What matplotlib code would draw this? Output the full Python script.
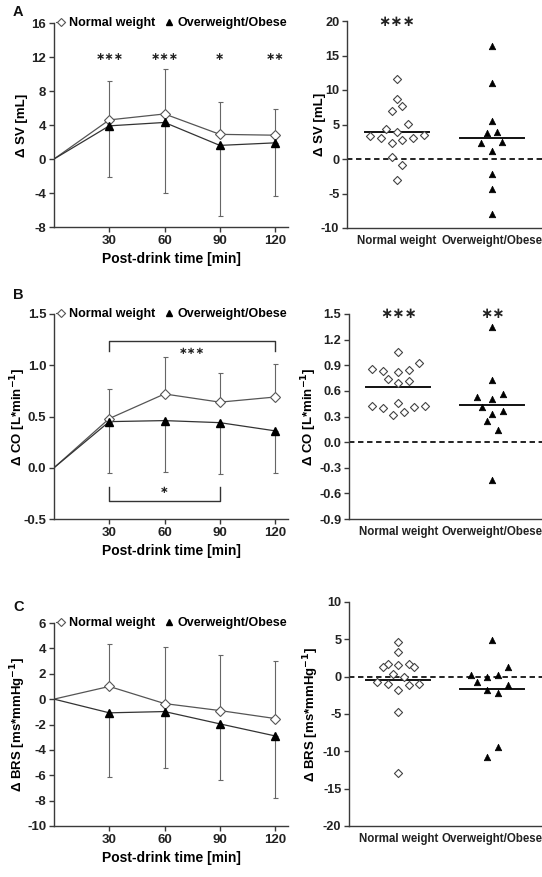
import matplotlib
matplotlib.use('Agg')
import matplotlib.pyplot as plt
from matplotlib.lines import Line2D
import numpy as np

plt.rcParams['font.family'] = ['Liberation Sans', 'DejaVu Sans']
plt.rcParams['font.weight'] = 'bold'
plt.rcParams['axes.labelweight'] = 'bold'

# ---------------- data ----------------
time = [0, 30, 60, 90, 120]
time_ticks = [30, 60, 90, 120]
groups = ['Normal weight', 'Overweight/Obese']

# Panel A: stroke volume
sv_nw = [0, 4.6, 5.3, 2.9, 2.8]
sv_nw_upper = [0, 9.2, 10.6, 6.7, 5.9]
sv_ow = [0, 3.9, 4.3, 1.6, 1.9]
sv_ow_lower = [0, -2.1, -4.0, -6.7, -4.35]
sv_time_sig = ['***', '***', '*', '**']

sv_nw_ind = [11.6, 8.7, 7.7, 7.0, 5.1, 4.35, 3.9, 3.4, 3.0, 2.3, 2.8, 3.0, 3.5, 0.3, -0.9, -3.0]
sv_ow_ind = [16.4, 11.0, 5.5, 3.8, 3.9, 2.3, 2.5, 1.1, -2.2, -4.4, -8.0]
sv_nw_mean = 3.9
sv_ow_mean = 3.0
sv_group_sig = ['***', '']

# Panel B: cardiac output
co_nw = [0, 0.48, 0.72, 0.64, 0.69]
co_nw_upper = [0, 0.765, 1.08, 0.92, 1.01]
co_ow = [0, 0.45, 0.46, 0.44, 0.36]
co_ow_lower = [0, -0.05, -0.04, -0.06, -0.055]

co_nw_ind = [1.05, 0.93, 0.857, 0.83, 0.82, 0.84, 0.74, 0.69, 0.71, 0.46, 0.42, 0.40, 0.32, 0.35, 0.41, 0.42]
co_ow_ind = [1.35, 0.73, 0.53, 0.565, 0.50, 0.41, 0.37, 0.33, 0.25, 0.14, -0.44]
co_nw_mean = 0.64
co_ow_mean = 0.435
co_group_sig = ['***', '**']

# Panel C: baroreflex sensitivity
brs_nw = [0, 1.0, -0.35, -0.9, -1.53]
brs_nw_upper = [0, 4.35, 4.07, 3.5, 3.0]
brs_ow = [0, -1.08, -0.98, -1.95, -2.9]
brs_ow_lower = [0, -6.1, -5.4, -6.4, -7.8]

brs_nw_ind = [4.7, 3.27, 1.71, 1.36, 1.5, 1.63, 1.23, 0.3, -0.06, -0.68, -1.04, -1.08, -0.95, -1.75, -4.7, -12.9]
brs_ow_ind = [4.92, 0.25, -0.77, -0.1, 0.2, 1.27, -1.8, -2.2, -1.17, -9.4, -10.7]
brs_nw_mean = -0.41
brs_ow_mean = -1.7

# horizontal scatter offsets (in units of point spacing) for the dot plots
sv_nw_off = [0, 0, 1, -1, 2, -2, 0, -5, -3, -1, 1, 3, 5, -1, 1, 0]
sv_ow_off = [0, 0, 0, -1, 1, -2, 2, 0, 0, 0, 0]
co_nw_off = [0, 4, -5, -3, 0, 2, -2, 0, 2, 0, -5, -3, -1, 1, 3, 5]
co_ow_off = [0, 0, -3, 2, 0, -2, 2, 0, -1, 1, 0]
brs_nw_off = [0, 0, -2, -3, 0, 2, 3, -1, 1, -4, -2, 2, 4, 0, 0, 0]
brs_ow_off = [0, -4, -3, -1, 1, 3, -1, 1, 3, 1, -1]

# ---------------- style ----------------
W, H = 542, 877
fig = plt.figure(figsize=(W / 100, H / 100), dpi=100)
SPINE = '#3a3a3a'
LINEC = '#555555'
TXT = '#222222'
FS_TICK = 9.5
FS_LAB = 9.5
FS_XLAB = 10
FS_LEG = 9
STAR = '\u2217'


def rect(l, r, t, b):
    return [l / W, 1 - b / H, (r - l) / W, (b - t) / H]


def style(ax, fs=FS_TICK):
    for s in ['top', 'right']:
        ax.spines[s].set_visible(False)
    for s in ['left', 'bottom']:
        ax.spines[s].set_color(SPINE)
        ax.spines[s].set_linewidth(1.0)
    ax.tick_params(colors=SPINE, labelcolor=TXT, labelsize=fs, width=1.0, length=3.5, pad=2)
    for lab in ax.get_xticklabels() + ax.get_yticklabels():
        lab.set_fontweight('bold')


def stars(ax, x, y, s, fs):
    ax.text(x, y, s.replace('*', STAR), ha='center', va='center', fontsize=fs,
            family='DejaVu Sans', color=TXT)


def time_panel(ax, nw, nw_up, ow, ow_lo, ylim, yticks, ylabel, yfmt):
    nw = np.array(nw); ow = np.array(ow)
    up = np.array(nw_up) - nw
    lo = ow - np.array(ow_lo)
    ax.errorbar(time[1:], nw[1:], yerr=[np.zeros(4), up[1:]], fmt='none', ecolor='#666666',
                elinewidth=0.8, capsize=1.8, capthick=0.8, zorder=1)
    ax.errorbar(time[1:], ow[1:], yerr=[lo[1:], np.zeros(4)], fmt='none', ecolor='#666666',
                elinewidth=0.8, capsize=1.8, capthick=0.8, zorder=1)
    ax.plot(time, nw, color=LINEC, lw=0.9, zorder=2)
    ax.plot(time, ow, color='#333333', lw=0.9, zorder=2)
    ax.plot(time[1:], nw[1:], ls='none', marker='D', ms=4.8, mfc='white', mec='#555555', mew=0.8, zorder=3)
    ax.plot(time[1:], ow[1:], ls='none', marker='^', ms=5.2, mfc='black', mec='black', zorder=3)
    ax.set_xlim(0, 127)
    ax.set_ylim(*ylim)
    ax.set_xticks(time_ticks)
    ax.set_yticks(yticks)
    ax.set_yticklabels([yfmt.format(v) for v in yticks])
    ax.set_xlabel('Post-drink time [min]', fontsize=FS_XLAB, fontweight='bold', labelpad=4)
    ax.set_ylabel(ylabel, fontsize=FS_LAB, fontweight='bold')
    ax.yaxis.set_label_coords(-0.11, 0.5)
    style(ax)
    handles = [Line2D([0], [0], color=LINEC, lw=0.8, marker='D', ms=4, mfc='white', mec='#555555', mew=0.8),
               Line2D([0], [0], color='none', lw=0, marker='^', ms=4.5, mfc='black', mec='black')]
    ax.legend(handles, groups, loc='center left', bbox_to_anchor=(0.01, 1.0), ncol=2,
              frameon=False, handlelength=0.7, handletextpad=0.3, columnspacing=0.8,
              borderaxespad=0, borderpad=0, prop={'size': FS_LEG, 'weight': 'bold'})


def dot_panel(ax, nw_ind, nw_off, ow_ind, ow_off, nw_mean, ow_mean, ylim, yticks, ylabel, yfmt, sig, labx):
    sp = 0.056
    ax.axhline(0, color='#111111', lw=1.3, ls=(0, (3, 2)), zorder=1)
    ax.scatter(np.array(nw_off) * sp + 0, nw_ind, marker='D', s=17, facecolors='white',
               edgecolors='#444444', linewidths=0.8, zorder=3)
    ax.scatter(np.array(ow_off) * sp + 1, ow_ind, marker='^', s=22, facecolors='black',
               edgecolors='black', linewidths=0.5, zorder=3)
    ax.plot([-0.34, 0.34], [nw_mean, nw_mean], color='#111111', lw=1.4, zorder=2)
    ax.plot([1 - 0.34, 1 + 0.34], [ow_mean, ow_mean], color='#111111', lw=1.4, zorder=2)
    ax.set_xlim(-0.526, 1.56)
    ax.set_ylim(*ylim)
    ax.set_xticks([0, 1])
    ax.set_xticklabels(groups)
    ax.set_yticks(yticks)
    ax.set_yticklabels([yfmt.format(v) for v in yticks])
    ax.set_ylabel(ylabel, fontsize=FS_LAB, fontweight='bold')
    ax.yaxis.set_label_coords(labx, 0.5)
    style(ax, 9.2)
    ax.tick_params(axis='x', length=0, pad=5, labelsize=8.3)
    for i, s in enumerate(sig):
        if s:
            stars(ax, i, ylim[1], s, 10.5)


# ---------------- Panel A ----------------
axA = fig.add_axes(rect(54, 288, 23, 227))
time_panel(axA, sv_nw, sv_nw_upper, sv_ow, sv_ow_lower, (-8, 16), [-8, -4, 0, 4, 8, 12, 16],
           '\u0394 SV [mL]', '{:g}')
for t, s in zip(time_ticks, sv_time_sig):
    stars(axA, t, 12, s, 8)

axA2 = fig.add_axes(rect(347, 545, 21, 228))
dot_panel(axA2, sv_nw_ind, sv_nw_off, sv_ow_ind, sv_ow_off, sv_nw_mean, sv_ow_mean,
          (-10, 20), [-10, -5, 0, 5, 10, 15, 20], '\u0394 SV [mL]', '{:g}', sv_group_sig, -0.105)

# ---------------- Panel B ----------------
axB = fig.add_axes(rect(54, 288, 314, 519))
time_panel(axB, co_nw, co_nw_upper, co_ow, co_ow_lower, (-0.5, 1.5), [-0.5, 0.0, 0.5, 1.0, 1.5],
           '\u0394 CO [L*min$^{\\mathbf{-1}}$]', '{:.1f}')
# brackets
axB.plot([30, 30, 120, 120], [1.14, 1.24, 1.24, 1.14], color='#333333', lw=1.0)
stars(axB, 75, 1.14, '***', 7.5)
axB.plot([30, 30, 90, 90], [-0.19, -0.32, -0.32, -0.19], color='#333333', lw=1.0)
stars(axB, 60, -0.22, '*', 7.5)

axB2 = fig.add_axes(rect(349, 545, 314, 519))
dot_panel(axB2, co_nw_ind, co_nw_off, co_ow_ind, co_ow_off, co_nw_mean, co_ow_mean,
          (-0.9, 1.5), [-0.9, -0.6, -0.3, 0.0, 0.3, 0.6, 0.9, 1.2, 1.5],
          '\u0394 CO [L*min$^{\\mathbf{-1}}$]', '{:.1f}', co_group_sig, -0.155)

# ---------------- Panel C ----------------
axC = fig.add_axes(rect(54, 288, 623, 826))
time_panel(axC, brs_nw, brs_nw_upper, brs_ow, brs_ow_lower, (-10, 6),
           [-10, -8, -6, -4, -2, 0, 2, 4, 6], '\u0394 BRS [ms*mmHg$^{\\mathbf{-1}}$]', '{:g}')

axC2 = fig.add_axes(rect(349, 545, 602, 826))
dot_panel(axC2, brs_nw_ind, brs_nw_off, brs_ow_ind, brs_ow_off, brs_nw_mean, brs_ow_mean,
          (-20, 10), [-20, -15, -10, -5, 0, 5, 10], '\u0394 BRS [ms*mmHg$^{\\mathbf{-1}}$]', '{:g}',
          ['', ''], -0.145)

# panel letters
for lab, y in [('A', 12), ('B', 295), ('C', 607)]:
    fig.text(13 / W, 1 - y / H, lab, fontsize=10.5, fontweight='bold', ha='left', va='center', color='#111111')

fig.savefig('out.png', dpi=100)
